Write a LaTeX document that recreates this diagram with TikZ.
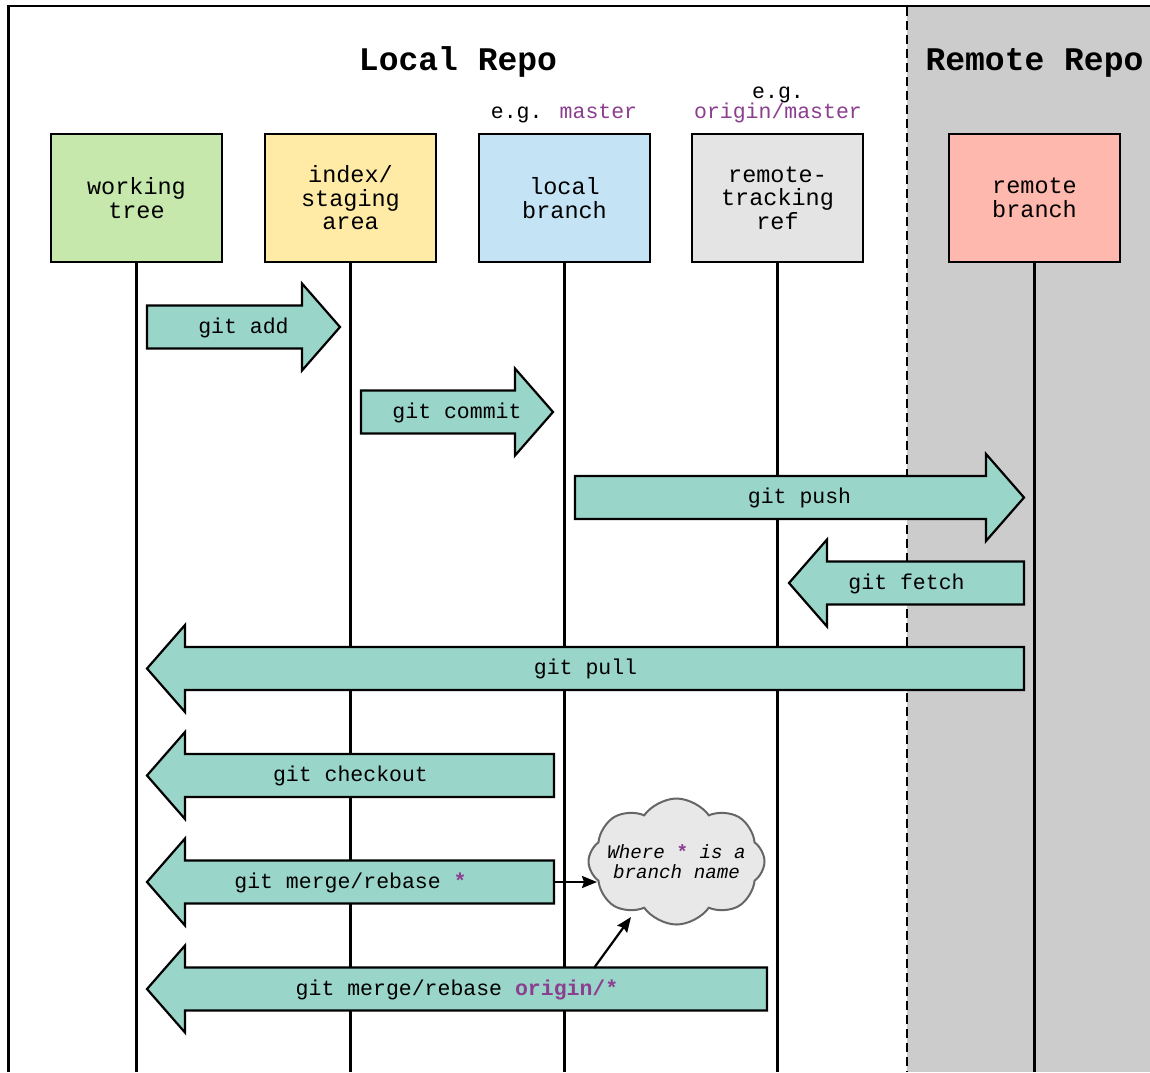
\documentclass[tikz,border=0pt]{standalone}
\usepackage{fontspec}
\setmainfont{Liberation Mono}
\usetikzlibrary{shapes.symbols,arrows.meta}
\definecolor{fatfill}{HTML}{9AD5CA}
\definecolor{wtfill}{HTML}{C6E8AD}
\definecolor{ixfill}{HTML}{FFEBA6}
\definecolor{lbfill}{HTML}{C4E4F6}
\definecolor{rtfill}{HTML}{E4E4E4}
\definecolor{rbfill}{HTML}{FFB8AE}
\definecolor{remotebg}{HTML}{CCCCCC}
\definecolor{refpurple}{HTML}{8B3F8F}
\definecolor{cloudfill}{HTML}{E8E8E8}
\definecolor{cloudline}{HTML}{666666}
\tikzset{
  fat/.style={draw=black, fill=fatfill, line width=2.2pt, line join=miter},
  fattext/.style={anchor=base, inner sep=0pt, font=\fontsize{21.5}{24}\selectfont},
  repobox/.style={draw=black, line width=2.2pt, minimum width=171pt, minimum height=128pt,
     align=center, inner sep=0pt, font=\fontsize{23.5}{23.5}\selectfont},
  life/.style={line width=2.2pt},
  title/.style={anchor=base, inner sep=0pt, font=\fontsize{33}{33}\selectfont\bfseries},
  eg/.style={anchor=base, inner sep=0pt, font=\fontsize{21.5}{20}\selectfont},
  pointer/.style={line width=2.2pt, -{Stealth[length=15pt,width=12pt,inset=2pt]}},
}
\newcommand{\fatright}[5]{%
  \draw[fat] (#2,#4-21.5) -- (#3-38,#4-21.5) -- (#3-38,#4-43.5) -- (#3,#4)
     -- (#3-38,#4+43.5) -- (#3-38,#4+21.5) -- (#2,#4+21.5) -- cycle;
  \coordinate (#1-tail) at (#2,#4);
  \coordinate (#1-tip) at (#3,#4);
  \node[fattext] (#1) at ({(#2+#3)/2},#4+6) {#5};
}
\newcommand{\fatleft}[5]{%
  \draw[fat] (#3,#4-21.5) -- (#2+38,#4-21.5) -- (#2+38,#4-43.5) -- (#2,#4)
     -- (#2+38,#4+43.5) -- (#2+38,#4+21.5) -- (#3,#4+21.5) -- cycle;
  \coordinate (#1-tip) at (#2,#4);
  \coordinate (#1-tail) at (#3,#4);
  \node[fattext] (#1) at ({(#2+#3)/2},#4+6) {#5};
}
\begin{document}
\begin{tikzpicture}[x=1pt,y=-1pt]
\useasboundingbox (0,0) rectangle (1150,1072);
\fill[white] (0,0) rectangle (1150,1072);
% remote area
\fill[remotebg] (907,7) rectangle (1150,1072);
\draw[line width=1.6pt, dash pattern=on 9pt off 5pt] (907,7) -- (907,1072);
\draw[line width=2.6pt] (1150,6) -- (8.5,6) -- (8.5,1072);
\coordinate (bot) at (0,1072);
% titles
\node[title] (localtitle) at (458,70) {Local Repo};
\node[title] (remotetitle) at (1034.5,70) {Remote Repo};
\node[eg] (eg1) at (564,118) {e.g. \textcolor{refpurple}{master}};
\node[eg] (eg2a) at (778,98) {e.g.};
\node[eg] (eg2b) at (778,118) {\textcolor{refpurple}{origin/master}};
% boxes
\node[repobox, fill=wtfill] (wt) at (136.5,198) {working\\tree};
\node[repobox, fill=ixfill] (ix) at (350.5,198) {index/\\staging\\area};
\node[repobox, fill=lbfill] (lb) at (564.5,198) {local\\branch};
\node[repobox, fill=rtfill] (rt) at (777.5,198) {remote-\\tracking\\ref};
\node[repobox, fill=rbfill] (rb) at (1034.5,198) {remote\\branch};
% lifelines
\foreach \n in {wt,ix,lb,rt,rb}
  \draw[life] (\n.south) -- (\n.south |- bot);
% fat arrows
\fatright{add}{147}{340}{327}{git add}
\fatright{commit}{361}{553}{412}{git commit}
\fatright{push}{575}{1024}{497.5}{git push}
\fatleft{fetch}{789}{1024}{583}{git fetch}
\fatleft{pull}{147}{1024}{668.5}{git pull}
\fatleft{checkout}{147}{554}{775.5}{git checkout}
\fatleft{mrA}{147}{554}{882}{git merge/rebase {\bfseries\textcolor{refpurple}{*}}}
\fatleft{mrB}{147}{767}{989}{git merge/rebase {\bfseries\textcolor{refpurple}{origin/*}}}
% cloud
\node[cloud, cloud puffs=8, cloud puff arc=110, cloud ignores aspect,
      minimum width=176pt, minimum height=126pt, draw=cloudline, fill=cloudfill,
      line width=2pt, inner sep=0pt] (cl) at (676.5,861.5) {};
\node[align=center, inner sep=0pt,
      font=\fontsize{19.2}{20}\selectfont\itshape] (cltext) at (cl.center)
  {Where {\upshape\bfseries\textcolor{refpurple}{*}} is a\\branch name};
\coordinate (clA) at (597,882);
\coordinate (mrBsrc) at (594,968);
\coordinate (clB) at (631,917);
\draw[pointer] (mrA-tail) -- (clA);
\draw[pointer] (mrBsrc) -- (clB);
\end{tikzpicture}
\end{document}
